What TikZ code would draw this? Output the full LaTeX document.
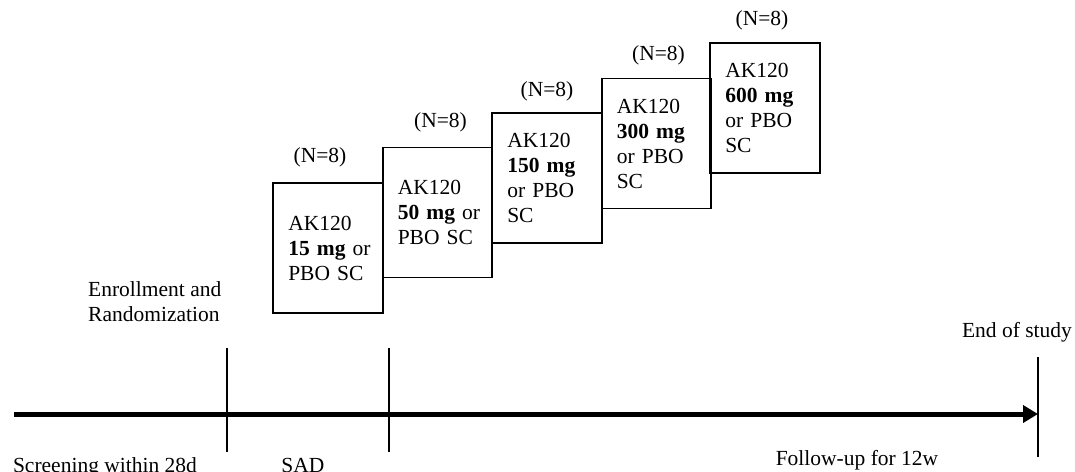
\documentclass[tikz,border=0pt]{standalone}
\usepackage{fontspec}
\setmainfont{Liberation Serif}
\usetikzlibrary{arrows.meta}
\begin{document}
\begin{tikzpicture}[x=1pt,y=-1pt,
  every node/.style={font=\fontsize{21.5}{25}\selectfont, inner sep=0pt},
  dosebox/.style={draw=black, line width=1.8pt, minimum width=109.5pt, minimum height=130pt,
    text width=79.5pt, align=left, inner xsep=15pt, inner ysep=0pt},
  nlabel/.style={anchor=center},
  tick/.style={line width=2.4pt},
  axis/.style={line width=5pt, -{Triangle[length=15pt,width=17pt]}},
  lbl/.style={anchor=base}]
\useasboundingbox (0,0) rectangle (1075,471);
% dose boxes
\node[dosebox] (b1) at (328,248) {AK120\\\mbox{\textbf{15 mg} or}\\\mbox{PBO SC}};
\node[dosebox] (b2) at (437.5,212.5) {AK120\\\mbox{\textbf{50 mg} or}\\\mbox{PBO SC}};
\node[dosebox] (b3) at (547,178) {AK120\\\mbox{\textbf{150 mg}}\\\mbox{or PBO}\\SC};
\node[dosebox] (b4) at (656.5,143.5) {AK120\\\mbox{\textbf{300 mg}}\\\mbox{or PBO}\\SC};
\node[dosebox] (b5) at (765,108) {AK120\\\mbox{\textbf{600 mg}}\\\mbox{or PBO}\\SC};
% N labels
\node[nlabel] (n1) at ([xshift=-8pt,yshift=25pt]b1.north) {(N=8)};
\node[nlabel] (n2) at ([xshift=3pt,yshift=24pt]b2.north) {(N=8)};
\node[nlabel] (n3) at ([xshift=0pt,yshift=21pt]b3.north) {(N=8)};
\node[nlabel] (n4) at ([xshift=2pt,yshift=22pt]b4.north) {(N=8)};
\node[nlabel] (n5) at ([xshift=-3pt,yshift=22pt]b5.north) {(N=8)};
% timeline
\coordinate (s) at (14,414);
\coordinate (t1) at (227,414);
\coordinate (t2) at (389,414);
\coordinate (e) at (1038,414);
\draw[axis] (s) -- (e);
\coordinate (t1a) at (227,348); \coordinate (t1b) at (227,452);
\coordinate (t2a) at (389,348); \coordinate (t2b) at (389,452);
\coordinate (t3a) at (1038,357); \coordinate (t3b) at (1038,457);
\draw[tick] (t1a) -- (t1b);
\draw[tick] (t2a) -- (t2b);
\draw[tick] (t3a) -- (t3b);
% labels
\node[anchor=base west, align=left] (enr) at (88,321) {Enrollment and\\Randomization};
\node[lbl] (eos) at (1017,337) {End of study};
\node[lbl] (scr) at (105,472) {Screening within 28d};
\node[lbl] (sad) at (303,472) {SAD};
\node[lbl] (fu) at (857,465) {Follow-up for 12w};
\end{tikzpicture}
\end{document}
